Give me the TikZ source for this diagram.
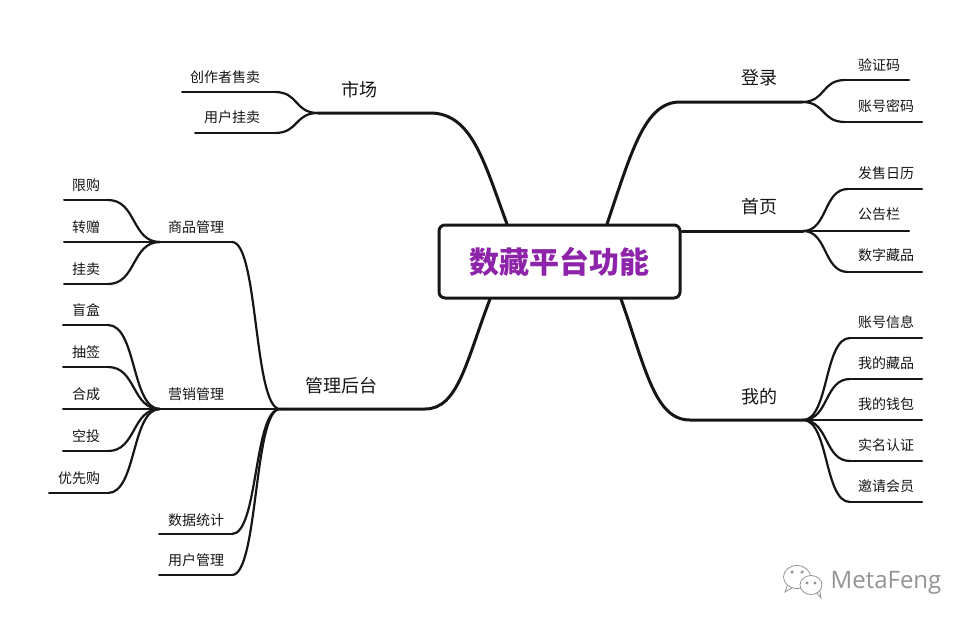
\documentclass[tikz,border=0pt]{standalone}
\usepackage{fontspec}
\usetikzlibrary{calc}
\setmainfont{Noto Sans CJK SC}
\newfontfamily\latinfont{Open Sans}
\definecolor{inkc}{HTML}{161616}
\definecolor{titlec}{HTML}{8E24AA}
\definecolor{wmc}{HTML}{949494}
\newcommand\sigcurve[3]{\draw[#1] let \p1=(#2),\p2=(#3),\n1={\x1+0.55*(\x2-\x1)},\n2={\x2-0.55*(\x2-\x1)} in (\p1) .. controls (\n1,\y1) and (\n2,\y2) .. (\p2);}
\tikzset{
  x=1pt,y=-1pt,
  topic/.style={font=\fontsize{18}{20}\selectfont,text=inkc,inner sep=0pt},
  leaf/.style={font=\fontsize{14}{16}\selectfont,text=inkc,inner sep=0pt},
  mainline/.style={draw=inkc,line width=3pt,line cap=round},
  midline/.style={draw=inkc,line width=2.2pt,line cap=round},
  thinline/.style={draw=inkc,line width=2pt,line cap=round},
  rootbox/.style={draw=inkc,line width=3pt,rounded corners=6pt,fill=white,minimum width=241pt,minimum height=73pt,inner sep=0pt,font=\fontsize{30}{34}\selectfont\bfseries,text=titlec},
}
\begin{document}
\begin{tikzpicture}
\useasboundingbox (0,0) rectangle (972,627);
\fill[white] (0,0) rectangle (972,627);
% topic coordinates
\coordinate (dlA) at (680,102); \coordinate (dlB) at (802,102);
\coordinate (syA) at (682,231); \coordinate (syB) at (803,231);
\coordinate (wdA) at (690,420); \coordinate (wdB) at (803,420);
\coordinate (scA) at (430,113); \coordinate (scB) at (318,113);
\coordinate (htA) at (425,409); \coordinate (htB) at (280,409);
\coordinate (spJ) at (160,242); \coordinate (spE) at (232,242);
\coordinate (yxJ) at (160,409); \coordinate (yxE) at (232,409);
% box anchors
\coordinate (rTR) at (607,224); \coordinate (rTL) at (507,224);
\coordinate (rBR) at (621,299); \coordinate (rBL) at (490,299);
% main branches
\draw[mainline] (rTR) .. controls (632,150) and (645,102) .. (dlA) -- (dlB);
\draw[mainline] (syA) -- (syB);
\draw[mainline] (rBR) .. controls (646,370) and (655,420) .. (wdA) -- (wdB);
\draw[mainline] (rTL) .. controls (484,162) and (472,113) .. (scA) -- (scB);
\draw[mainline] (rBL) .. controls (466,362) and (458,409) .. (htA) -- (htB);
% root
\node[rootbox] (root) at (559.5,261.5) {数藏平台功能};
% topic labels
\node[topic] (dl) at (759,78) {登录};
\node[topic] (sy) at (759,207) {首页};
\node[topic] (wd) at (759,396.5) {我的};
\node[topic] (sc) at (359,89.5) {市场};
\node[topic] (ht) at (341,385.5) {管理后台};
% leaves
\foreach \nm/\txt/\tx/\ty/\ly/\sx/\ex in {
  a/验证码/879/65/80/845/909,
  b/账号密码/886/106/122/845/922,
  c/发售日历/886/173/189/848/922,
  d/公告栏/879/214/231/848/909,
  e/数字藏品/886/255/272/848/922,
  f/账号信息/886/322/338/850/922,
  g/我的藏品/886/363/379/850/922,
  h/我的钱包/886/404/420/850/922,
  i/实名认证/886/445/461/850/922,
  j/邀请会员/886/486/502/850/922,
  k/创作者售卖/225/77/92/275/182,
  l/用户挂卖/232/117/133/275/195,
  m/商品管理/196/227/242/160/232,
  n/限购/86/185/200/108/64,
  o/转赠/86/227/242/108/64,
  p/挂卖/86/269/284/108/64,
  q/盲盒/86/310/325/108/63,
  r/抽签/86/352/367/108/63,
  s/合成/86/394/409/108/63,
  t/空投/86/436/451/108/63,
  u/优先购/79/478/493/108/49,
  v/营销管理/196/394/409/160/232,
  w/数据统计/196/520/534/232/159,
  x/用户管理/196/560/575/232/159}{
  \node[leaf] (\nm) at (\tx,\ty) {\txt};
  \coordinate (\nm S) at (\sx,\ly);
  \coordinate (\nm E) at (\ex,\ly);
  \draw[thinline] (\nm S) -- (\nm E);
}
% curves
\foreach \nm/\prt in {a/dlB,b/dlB,c/syB,d/syB,e/syB,f/wdB,g/wdB,h/wdB,i/wdB,j/wdB,k/scB,l/scB,n/spJ,o/spJ,p/spJ,q/yxJ,r/yxJ,s/yxJ,t/yxJ,u/yxJ}{
  \sigcurve{midline}{\prt}{\nm S}
}
\sigcurve{midline}{htB}{spE}
\draw[midline] (htB) -- (yxE);
\sigcurve{midline}{htB}{wS}
\sigcurve{midline}{htB}{xS}
% watermark
\node[font=\latinfont\fontsize{24}{28}\selectfont,text=wmc,inner sep=0pt] (wm) at (886,583) {MetaFeng};
\begin{scope}[draw=wmc,line width=0.8pt]
\draw[fill=white] (797,577) ellipse (13.5pt and 11.5pt);
\draw (787,586) -- (785,592) -- (792,588);
\draw[fill=white] (811,585) ellipse (11pt and 9.5pt);
\draw (817,593) -- (821,598) -- (820,591);
\draw (792,572) circle (1.2pt) (802,572) circle (1.2pt) (807,583) circle (1pt) (815,583) circle (1pt);
\end{scope}
\end{tikzpicture}
\end{document}
